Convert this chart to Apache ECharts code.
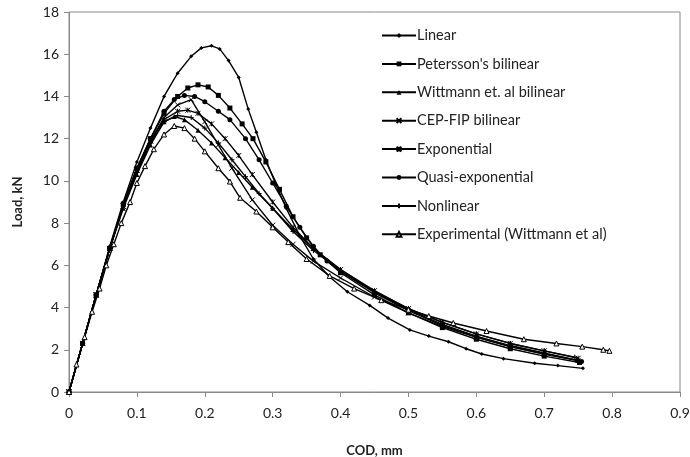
<!DOCTYPE html>
<html><head><meta charset="utf-8">
<script src="https://cdn.jsdelivr.net/npm/echarts@6/dist/echarts.min.js"></script>
<style>html,body{margin:0;padding:0;background:#fff}#c{width:690px;height:457px}</style>
</head><body><div id="c"></div>
<script>
var xTicks = [0,0.1,0.2,0.3,0.4,0.5,0.6,0.7,0.8,0.9];
var yTicks = [0,2,4,6,8,10,12,14,16,18];
var seriesNames = ["Linear","Petersson's bilinear","Wittmann et. al bilinear","CEP-FIP bilinear","Exponential","Quasi-exponential","Nonlinear","Experimental (Wittmann et al)"];

var linear = [[0,0],[0.02,2.3],[0.04,4.6],[0.06,6.9],[0.08,9.0],[0.1,10.9],[0.12,12.5],[0.14,14.0],[0.16,15.1],[0.18,15.9],[0.195,16.3],[0.21,16.4],[0.222,16.25],[0.235,15.7],[0.25,14.9],[0.264,13.4],[0.276,12.3],[0.29,11.0],[0.305,9.8],[0.32,8.7],[0.34,7.4],[0.36,6.3],[0.384,5.45],[0.41,4.75],[0.443,4.1],[0.47,3.5],[0.502,2.94],[0.53,2.65],[0.559,2.38],[0.585,2.05],[0.608,1.8],[0.64,1.58],[0.686,1.36],[0.72,1.25],[0.757,1.12]];
var petersson = [[0,0],[0.02,2.3],[0.04,4.6],[0.06,6.8],[0.08,8.9],[0.1,10.6],[0.12,12.0],[0.14,13.2],[0.16,14.0],[0.175,14.4],[0.19,14.55],[0.205,14.45],[0.22,14.05],[0.237,13.45],[0.255,12.7],[0.271,12.0],[0.29,10.9],[0.31,9.6],[0.33,8.3],[0.35,7.3],[0.37,6.5],[0.4,5.65],[0.45,4.6],[0.5,3.75],[0.55,3.05],[0.6,2.5],[0.65,2.05],[0.7,1.7],[0.752,1.4]];
var wittmann = [[0,0],[0.02,2.3],[0.04,4.6],[0.06,6.8],[0.08,8.7],[0.1,10.3],[0.12,11.7],[0.14,12.8],[0.155,13.05],[0.17,12.9],[0.19,12.4],[0.21,11.8],[0.23,11.1],[0.25,10.4],[0.27,9.7],[0.3,8.7],[0.33,7.7],[0.36,6.8],[0.4,5.8],[0.45,4.75],[0.5,3.9],[0.55,3.2],[0.6,2.65],[0.65,2.2],[0.7,1.85],[0.75,1.5]];
var cepfip = [[0,0],[0.02,2.3],[0.04,4.6],[0.06,6.8],[0.08,8.8],[0.1,10.5],[0.12,11.9],[0.14,13.0],[0.16,13.6],[0.18,13.85],[0.2,12.8],[0.22,11.7],[0.24,10.6],[0.27,9.1],[0.3,7.9],[0.33,7.0],[0.36,6.2],[0.4,5.4],[0.45,4.5],[0.5,3.75],[0.55,3.1],[0.6,2.6],[0.65,2.15],[0.7,1.8],[0.75,1.5]];
var exponential = [[0,0],[0.02,2.3],[0.04,4.6],[0.06,6.8],[0.08,8.8],[0.1,10.5],[0.12,11.9],[0.14,12.9],[0.16,13.3],[0.175,13.35],[0.19,13.2],[0.21,12.7],[0.23,12.0],[0.25,11.2],[0.27,10.3],[0.3,9.0],[0.33,7.8],[0.36,6.8],[0.4,5.8],[0.45,4.8],[0.5,3.95],[0.55,3.3],[0.6,2.75],[0.65,2.3],[0.7,1.95],[0.75,1.6]];
var quasiExp = [[0,0],[0.02,2.3],[0.04,4.6],[0.06,6.8],[0.08,8.9],[0.1,10.6],[0.12,12.0],[0.14,13.3],[0.155,13.85],[0.17,14.05],[0.185,14.0],[0.2,13.75],[0.22,13.3],[0.237,12.9],[0.26,12.0],[0.28,11.0],[0.3,9.9],[0.32,8.8],[0.34,7.8],[0.36,6.9],[0.38,6.2],[0.4,5.7],[0.45,4.7],[0.5,3.85],[0.55,3.15],[0.6,2.6],[0.65,2.15],[0.7,1.8],[0.755,1.45]];
var nonlinear = [[0,0],[0.02,2.3],[0.04,4.6],[0.06,6.8],[0.08,8.8],[0.1,10.4],[0.12,11.8],[0.14,12.8],[0.16,13.1],[0.18,13.0],[0.2,12.5],[0.22,11.8],[0.24,11.0],[0.26,10.2],[0.28,9.4],[0.3,8.7],[0.33,7.6],[0.36,6.7],[0.4,5.75],[0.45,4.75],[0.5,3.95],[0.55,3.3],[0.6,2.75],[0.65,2.3],[0.7,1.95],[0.745,1.65]];
var experimental = [[0,0],[0.011,1.3],[0.023,2.6],[0.034,3.8],[0.045,4.9],[0.055,6.0],[0.066,7.0],[0.077,8.0],[0.09,9.0],[0.1,9.9],[0.112,10.7],[0.125,11.5],[0.14,12.2],[0.155,12.6],[0.17,12.5],[0.185,12.0],[0.2,11.4],[0.22,10.6],[0.237,9.97],[0.252,9.2],[0.276,8.55],[0.3,7.8],[0.323,7.1],[0.35,6.3],[0.384,5.5],[0.42,4.9],[0.46,4.35],[0.5,3.9],[0.53,3.6],[0.566,3.27],[0.615,2.89],[0.67,2.5],[0.718,2.3],[0.756,2.15],[0.787,2.0],[0.796,1.95]];

var seriesData = [linear, petersson, wittmann, cepfip, exponential, quasiExp, nonlinear, experimental];
var symbols = ['diamond','rect','triangle','path://M0,0L10,10M10,0L0,10','path://M0,0L10,10M10,0L0,10M5,0L5,10','circle','path://M5,0L5,10M0,5L10,5','triangle'];
var sizes = [4,5,5,5,5,5,5,5];

var series = seriesData.map(function(d,i){
  var isExp = i===7;
  return {
    name: seriesNames[i], type:'line', data:d, symbol:symbols[i], symbolSize:sizes[i],
    showAllSymbol:true, animation:false,
    lineStyle:{color:'#000', width:1.4},
    itemStyle:{color: isExp ? '#fff' : '#000', borderColor:'#000', borderWidth: (i===3||i===4||i===6||isExp)?1:0}
  };
});

var chart = echarts.init(document.getElementById('c'));
chart.setOption({
  backgroundColor:'#fff',
  animation:false,
  textStyle:{fontFamily:'Lato'},
  grid:{left:69, right:10, top:12, bottom:65, show:true, borderColor:'#888', borderWidth:1, outerBoundsMode:'none', containLabel:false},
  legend:{orient:'vertical', left:376, top:23, itemWidth:34, itemHeight:6, itemGap:13.4,
    textStyle:{fontFamily:'Lato', fontSize:14.5, color:'#222', padding:[0,0,0,-4]},
    data: seriesNames},
  xAxis:{type:'value', min:xTicks[0], max:xTicks[xTicks.length-1], interval:0.1,
    name:'COD, mm', nameLocation:'middle', nameGap:52,
    nameTextStyle:{fontFamily:'Lato', fontWeight:'bold', fontSize:13, color:'#222'},
    axisLine:{lineStyle:{color:'#888'}}, axisTick:{show:true, length:5, lineStyle:{color:'#888'}},
    splitLine:{show:false},
    axisLabel:{fontFamily:'Lato', fontSize:14, color:'#222', margin:14, formatter:function(v){return String(Math.round(v*10)/10);}}},
  yAxis:{type:'value', min:yTicks[0], max:yTicks[yTicks.length-1], interval:2,
    name:'Load, kN', nameLocation:'middle', nameGap:45,
    nameTextStyle:{fontFamily:'Lato', fontWeight:'bold', fontSize:13, color:'#222'},
    axisLine:{show:true, lineStyle:{color:'#888'}}, axisTick:{show:true, length:5, lineStyle:{color:'#888'}},
    splitLine:{show:false},
    axisLabel:{fontFamily:'Lato', fontSize:14, color:'#222', margin:10}},
  series: series
});
</script></body></html>
